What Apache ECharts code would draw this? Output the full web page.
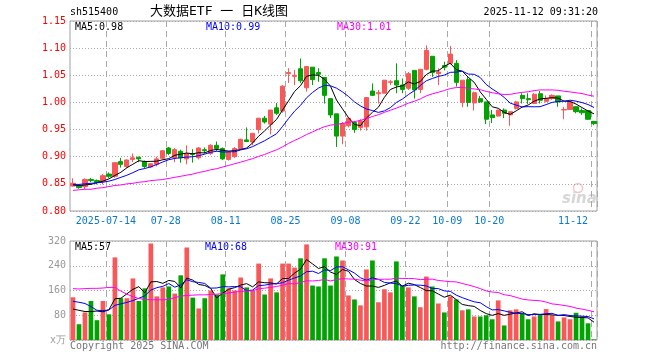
<!DOCTYPE html>
<html><head><meta charset="utf-8">
<script src="https://cdn.jsdelivr.net/npm/echarts@6/dist/echarts.min.js"></script>
<style>html,body{margin:0;padding:0;background:#fff}#c{width:660px;height:360px}</style>
</head><body><div id="c"></div>
<script>
const dates = ['2025-07-04','2025-07-07','2025-07-08','2025-07-09','2025-07-10','2025-07-11','2025-07-14','2025-07-15','2025-07-16','2025-07-17','2025-07-18','2025-07-21','2025-07-22','2025-07-23','2025-07-24','2025-07-25','2025-07-28','2025-07-29','2025-07-30','2025-07-31',
'2025-08-01','2025-08-04','2025-08-05','2025-08-06','2025-08-07','2025-08-08','2025-08-11','2025-08-12','2025-08-13','2025-08-14','2025-08-15','2025-08-18','2025-08-19','2025-08-20','2025-08-21','2025-08-22','2025-08-25','2025-08-26','2025-08-27','2025-08-28','2025-08-29',
'2025-09-01','2025-09-02','2025-09-03','2025-09-04','2025-09-05','2025-09-08','2025-09-09','2025-09-10','2025-09-11','2025-09-12','2025-09-15','2025-09-16','2025-09-17','2025-09-18','2025-09-19','2025-09-22','2025-09-23','2025-09-24','2025-09-25','2025-09-26','2025-09-29','2025-09-30',
'2025-10-09','2025-10-10','2025-10-13','2025-10-14','2025-10-15','2025-10-16','2025-10-17','2025-10-20','2025-10-21','2025-10-22','2025-10-23','2025-10-24','2025-10-27','2025-10-28','2025-10-29','2025-10-30','2025-10-31',
'2025-11-03','2025-11-04','2025-11-05','2025-11-06','2025-11-07','2025-11-10','2025-11-11','2025-11-12'];

const opens = [0.846,0.847,0.845,0.858,0.856,0.855,0.868,0.864,0.891,0.882,
0.895,0.899,0.891,0.881,0.886,0.897,0.916,0.898,0.910,0.896,
0.906,0.898,0.913,0.906,0.921,0.915,0.895,0.900,0.915,0.931,
0.927,0.950,0.971,0.960,0.990,0.984,1.053,1.048,1.062,1.027,
1.065,1.055,1.046,1.007,0.979,0.938,0.957,0.963,0.954,0.955,
1.021,1.016,1.017,1.037,1.040,1.032,1.026,1.059,1.024,1.061,
1.085,1.053,1.068,1.072,1.072,1.000,1.042,0.999,1.007,1.001,
0.977,0.975,0.986,0.977,0.989,1.013,1.007,0.998,1.016,1.002,
1.007,1.012,0.986,0.987,0.992,0.985,0.985,0.965];
const closes = [0.851,0.843,0.858,0.856,0.853,0.865,0.864,0.889,0.886,0.894,
0.898,0.896,0.882,0.887,0.896,0.911,0.906,0.913,0.898,0.906,
0.904,0.916,0.911,0.921,0.915,0.896,0.909,0.915,0.932,0.928,
0.943,0.971,0.964,0.986,0.980,1.030,1.055,1.050,1.040,1.066,
1.042,1.052,1.013,0.977,0.938,0.961,0.971,0.950,0.966,1.009,
1.013,1.018,1.041,1.038,1.032,1.024,1.053,1.023,1.061,1.096,
1.055,1.056,1.065,1.089,1.037,1.041,1.000,1.018,1.001,0.969,
0.972,0.986,0.980,0.983,1.001,1.007,1.005,1.015,1.004,1.007,
1.013,1.001,0.987,1.001,0.983,0.981,0.969,0.961];
const lows = [0.845,0.841,0.840,0.853,0.849,0.849,0.861,0.861,0.880,0.880,
0.890,0.890,0.879,0.879,0.882,0.895,0.903,0.890,0.889,0.886,
0.889,0.895,0.906,0.903,0.910,0.894,0.893,0.898,0.913,0.927,
0.921,0.943,0.961,0.941,0.977,0.981,1.036,1.032,1.036,1.020,
1.032,1.038,0.998,0.971,0.918,0.923,0.954,0.944,0.948,0.948,
1.012,0.998,1.017,1.032,1.017,1.017,1.023,1.007,1.017,1.059,
1.047,1.032,1.059,1.070,1.029,0.991,0.992,0.985,0.999,0.960,
0.962,0.974,0.971,0.957,0.987,0.998,0.997,0.997,0.998,1.000,
1.005,0.992,0.969,0.986,0.980,0.977,0.968,0.958];
const highs = [0.860,0.849,0.860,0.861,0.858,0.868,0.871,0.889,0.898,0.895,
0.906,0.900,0.893,0.888,0.900,0.912,0.918,0.916,0.913,0.921,
0.914,0.918,0.917,0.923,0.928,0.917,0.910,0.918,0.933,0.954,
0.944,0.971,0.975,0.986,0.999,1.032,1.063,1.060,1.081,1.067,
1.065,1.063,1.046,1.007,0.979,0.964,0.972,0.966,0.969,1.010,
1.035,1.023,1.041,1.041,1.072,1.044,1.056,1.059,1.061,1.105,
1.085,1.063,1.075,1.104,1.078,1.041,1.047,1.020,1.012,1.001,
0.986,0.986,0.989,0.983,1.003,1.017,1.017,1.017,1.021,1.013,
1.015,1.012,0.992,1.003,0.993,0.989,0.985,0.966];
const volumes = [138,51,89,126,64,126,83,267,135,135,
199,126,167,312,141,170,173,150,209,299,
137,102,135,160,147,212,167,160,202,170,
160,247,147,199,154,247,247,234,264,309,
176,173,264,176,270,257,144,131,112,228,
257,122,164,154,254,176,170,141,106,205,
173,118,89,141,131,96,99,76,76,80,
67,128,47,96,99,86,67,76,83,100,
80,60,73,67,88,76,54,2];

// moving-average values for days before the window is full
const ma5Head = [0.848,0.847,0.848,0.849];
const ma10Head = [0.849,0.849,0.850,0.851,0.852,0.853,0.855,0.858,0.862];
const ma30Head = [0.838,0.839,0.840,0.840,0.842,0.843,0.845,0.847,0.848,0.850,0.851,0.853,0.854,0.856,0.857,0.858,0.860,0.862,0.864,0.866,0.868,0.871,0.873,0.876,0.878,0.881,0.884,0.887,0.890];
const volMa5Head = [100,96,92,92];
const volMa10Head = [125,122,118,108,96,95,97,112,117];
const volMa30Head = [166,165,166,167,167,168,170,170,158,148,140,134,131,130,130,130,131,137,142,144,145,146,146,147,148,150,152,155,157];

const tickDates = ['2025-07-14','2025-07-28','2025-08-11','2025-08-25','2025-09-08','2025-09-22','2025-10-09','2025-10-20','2025-11-12'];
const tickLabels = ['2025-07-14','07-28','08-11','08-25','09-08','09-22','10-09','10-20','11-12'];
const priceMin = 0.80, priceMax = 1.15, priceStep = 0.05;
const volMin = 0, volMax = 320, volStep = 80;

function ma(arr, n, head) {
  return arr.map((v, i) => {
    if (i < n - 1) return head[i];
    let s = 0; for (let k = i - n + 1; k <= i; k++) s += arr[k];
    return s / n;
  });
}
const ma5 = ma(closes, 5, ma5Head), ma10 = ma(closes, 10, ma10Head), ma30 = ma(closes, 30, ma30Head);
const vma5 = ma(volumes, 5, volMa5Head), vma10 = ma(volumes, 10, volMa10Head), vma30 = ma(volumes, 30, volMa30Head);
const kData = dates.map((d, i) => [opens[i], closes[i], lows[i], highs[i]]);

const RED = '#fa5858', GREEN = '#00a300';
const MONO = "'DejaVu Sans Mono', monospace";
const tickFn = (idx) => tickDates.indexOf(dates[idx]) >= 0;
const last = a => a[a.length - 1];

const chart = echarts.init(document.getElementById('c'), null, {renderer: 'canvas'});
const gridLine = {show: true, lineStyle: {color: '#a8a8a8', type: [1, 2], width: 1}};
const vLine = {show: true, interval: tickFn, lineStyle: {color: '#a8a8a8', type: [6, 4], width: 1}};

chart.setOption({
  animation: false,
  backgroundColor: '#fff',
  grid: [
    {left: 70, right: 63, top: 21, height: 190, show: true, borderColor: '#a0a0a0', borderWidth: 1},
    {left: 70, right: 63, top: 241, height: 99, show: true, borderColor: '#a0a0a0', borderWidth: 1}
  ],
  xAxis: [
    {type: 'category', gridIndex: 0, data: dates, boundaryGap: true,
     axisLine: {show: false}, axisTick: {show: false},
     splitLine: vLine,
     axisLabel: {interval: tickFn, color: '#0a78d2', fontFamily: MONO, fontSize: 10, margin: 5,
       padding: [0, 6, 0, 0], alignMaxLabel: 'right',
       formatter: v => tickLabels[tickDates.indexOf(v)] || ''}},
    {type: 'category', gridIndex: 1, data: dates, boundaryGap: true,
     axisLine: {show: false}, axisTick: {show: false}, axisLabel: {show: false},
     splitLine: vLine}
  ],
  yAxis: [
    {type: 'value', gridIndex: 0, min: priceMin, max: priceMax, interval: priceStep, scale: true,
     axisLine: {show: false}, axisTick: {show: false}, splitLine: gridLine,
     axisLabel: {color: '#ff0000', fontFamily: MONO, fontSize: 10, margin: 4, formatter: v => v.toFixed(2)}},
    {type: 'value', gridIndex: 1, min: volMin, max: volMax, interval: volStep,
     axisLine: {show: false}, axisTick: {show: false}, splitLine: gridLine,
     axisLabel: {color: '#999', fontFamily: MONO, fontSize: 10, margin: 4, formatter: v => v === 0 ? 'x万' : String(v)}}
  ],
  series: [
    {type: 'candlestick', xAxisIndex: 0, yAxisIndex: 0, data: kData, barWidth: '78%',
     itemStyle: {color: RED, color0: GREEN, borderColor: RED, borderColor0: GREEN, borderWidth: 1}},
    {type: 'line', xAxisIndex: 0, yAxisIndex: 0, data: ma5, symbol: 'none', lineStyle: {color: '#000', width: 1}},
    {type: 'line', xAxisIndex: 0, yAxisIndex: 0, data: ma10, symbol: 'none', lineStyle: {color: '#0000ff', width: 1}},
    {type: 'line', xAxisIndex: 0, yAxisIndex: 0, data: ma30, symbol: 'none', lineStyle: {color: '#ff00ff', width: 1}},
    {type: 'bar', xAxisIndex: 1, yAxisIndex: 1, data: volumes, barWidth: '78%',
     itemStyle: {color: p => closes[p.dataIndex] >= opens[p.dataIndex] ? RED : GREEN}},
    {type: 'line', xAxisIndex: 1, yAxisIndex: 1, data: vma5, symbol: 'none', lineStyle: {color: '#000', width: 1}},
    {type: 'line', xAxisIndex: 1, yAxisIndex: 1, data: vma10, symbol: 'none', lineStyle: {color: '#0000ff', width: 1}},
    {type: 'line', xAxisIndex: 1, yAxisIndex: 1, data: vma30, symbol: 'none', lineStyle: {color: '#ff00ff', width: 1}}
  ],
  graphic: [
    {type: 'text', left: 70, top: 7, style: {text: 'sh515400', fill: '#000', font: "10px " + MONO}},
    {type: 'text', left: 150, top: 5, style: {text: '大数据ETF 一 日K线图', fill: '#000', font: "13px 'DejaVu Sans Mono','Noto Sans CJK SC'"}},
    {type: 'text', right: 62, top: 7, style: {text: '2025-11-12 09:31:20', fill: '#000', font: "10px " + MONO}},
    {type: 'text', left: 75, top: 22, style: {text: 'MA5:' + last(ma5).toFixed(2), fill: '#000', font: "10px " + MONO}},
    {type: 'text', left: 206, top: 22, style: {text: 'MA10:' + last(ma10).toFixed(2), fill: '#0000ff', font: "10px " + MONO}},
    {type: 'text', left: 337, top: 22, style: {text: 'MA30:' + last(ma30).toFixed(2), fill: '#ff00ff', font: "10px " + MONO}},
    {type: 'text', left: 75, top: 242, style: {text: 'MA5:' + Math.round(last(vma5)), fill: '#000', font: "10px " + MONO}},
    {type: 'text', left: 205, top: 242, style: {text: 'MA10:' + Math.round(last(vma10)), fill: '#0000ff', font: "10px " + MONO}},
    {type: 'text', left: 335, top: 242, style: {text: 'MA30:' + Math.round(last(vma30)), fill: '#ff00ff', font: "10px " + MONO}},
    {type: 'text', left: 70, top: 341, style: {text: 'Copyright 2025 SINA.COM', fill: '#777', font: "10px " + MONO}},
    {type: 'text', right: 63, top: 341, style: {text: 'http://finance.sina.com.cn', fill: '#777', font: "10px " + MONO}},
    {type: 'circle', shape: {cx: 578, cy: 188, r: 4.5}, style: {fill: 'none', stroke: '#f6c4c4', lineWidth: 1.5}},
    {type: 'text', left: 562, top: 192, style: {text: 'sina', fill: '#d6d6d6', font: "italic bold 15px 'DejaVu Sans'"}}
  ]
});
</script></body></html>
